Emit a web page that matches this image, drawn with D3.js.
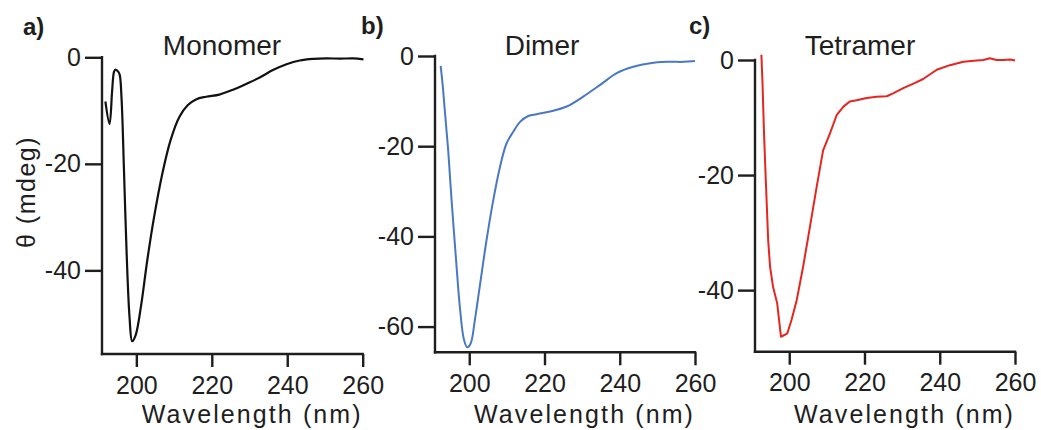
<!DOCTYPE html>
<html>
<head>
<meta charset="utf-8">
<script src="https://cdn.jsdelivr.net/npm/d3@7"></script>
<style>
  html, body { margin: 0; padding: 0; background: #ffffff; }
  svg { display: block; }
  text { font-family: "Liberation Sans", Arial, sans-serif; fill: #1e1e1e; }
</style>
</head>
<body>
<svg id="chart" width="1041" height="430"></svg>
<script>
// ---- Data ----
const xTicks = [200, 220, 240, 260];

const monomerWl  = [191.8,192.9,193.6,194.1,194.5,195.2,195.6,196.1,196.7,197.4,198.2,198.9,199.8,201.2,202.9,204.7,206.9,209.1,211.4,213.6,215.8,218.5,222.0,225.6,229.1,232.7,236.2,239.8,243.3,246.9,250.4,254.0,257.5,260.2];
const monomerVal = [-8.3,-12.5,-6.1,-2.7,-2.3,-2.7,-3.3,-8.0,-20.6,-36.2,-48.8,-53.3,-52.2,-46.9,-38.1,-30.0,-21.8,-15.5,-11.2,-9.0,-7.9,-7.4,-7.0,-6.1,-5.0,-3.8,-2.4,-1.3,-0.6,-0.3,-0.2,-0.25,-0.2,-0.4];
const monomerYTicks = [0, -20, -40];

const dimerWl  = [192.4,192.9,193.5,194.4,195.3,196.5,197.5,198.6,199.5,200.4,201.5,202.8,204.6,206.4,208.2,209.9,211.7,213.5,215.7,217.9,221.5,225.9,230.3,234.8,239.2,243.6,248.1,252.5,256.9,260.0];
const dimerVal = [-2.2,-6.1,-12.0,-20.8,-31.9,-45.2,-55.6,-62.9,-64.6,-63.7,-58.5,-51.1,-40.8,-31.9,-24.5,-19.4,-16.8,-14.6,-13.3,-12.9,-12.3,-11.2,-9.0,-6.4,-3.8,-2.4,-1.6,-1.3,-1.3,-1.1];
const dimerYTicks = [0, -20, -40, -60];

const tetramerWl  = [192.6,192.9,193.3,193.8,194.4,194.9,195.7,196.8,197.3,197.8,198.7,199.5,200.6,202.0,203.7,205.5,207.3,209.0,210.8,212.6,214.4,216.1,217.9,220.6,223.2,225.9,227.6,230.3,233.0,235.6,239.2,242.7,246.3,249.8,251.6,253.3,255.1,256.9,258.7,260.0];
const tetramerVal = [0.9,-4.1,-12.8,-21.4,-31.3,-35.9,-39.4,-42.3,-45.2,-48.1,-47.8,-47.5,-45.2,-41.7,-35.9,-29.0,-22.0,-15.7,-12.8,-9.6,-8.1,-7.2,-7.0,-6.6,-6.4,-6.3,-5.8,-4.9,-4.1,-3.3,-1.7,-0.9,-0.3,-0.1,0.0,0.3,0.0,0.0,0.1,-0.1];
const tetramerYTicks = [0, -20, -40];

const panelLabels = ["a)", "b)", "c)"];
const panelTitles = ["Monomer", "Dimer", "Tetramer"];
const xAxisTitle = "Wavelength (nm)";
const yAxisTitle = "\u03B8 (mdeg)";

// ---- Layout (positions/styles kept separate from data) ----
const panels = [
  { wl: monomerWl,  val: monomerVal,  yTicks: monomerYTicks,  yMin: -55.7, left: 102, right: 362.7, top: 57.3, bottom: 354,
    color: "#111111", width: 2.2, labelX: 23, labelY: 35, titleX: 222, curve: d3.curveCatmullRom.alpha(0.5) },
  { wl: dimerWl,    val: dimerVal,    yTicks: dimerYTicks,    yMin: -65.7, left: 435, right: 695, top: 56, bottom: 352.3,
    color: "#4a78c2", width: 2.0, labelX: 361, labelY: 34, titleX: 542, curve: d3.curveCatmullRom.alpha(0.5) },
  { wl: tetramerWl, val: tetramerVal, yTicks: tetramerYTicks, yMin: -50.7, left: 755, right: 1015, top: 60, bottom: 351.7,
    color: "#e52620", width: 2.0, labelX: 689, labelY: 34, titleX: 860, curve: d3.curveLinear }
];

const svg = d3.select("#chart");
const axisColor = "#1e1e1e";

panels.forEach((p, i) => {
  const x = d3.scaleLinear().domain([190.9, 260]).range([p.left, p.right]);
  const y = d3.scaleLinear().domain([p.yMin, 0]).range([p.bottom, p.top]);
  const g = svg.append("g");

  // Y axis
  const yAxis = d3.axisLeft(y).tickValues(p.yTicks).tickSize(17).tickPadding(4)
    .tickFormat(d => d === 0 ? "0" : "-" + Math.abs(d));
  const gy = g.append("g").attr("transform", `translate(${p.left},0)`).call(yAxis);
  gy.select(".domain").remove();
  gy.selectAll(".tick line").attr("stroke", axisColor).attr("stroke-width", 2.4);
  gy.selectAll(".tick text").attr("font-size", 25).attr("fill", axisColor)
    .attr("font-family", "'Liberation Sans', Arial, sans-serif");
  g.append("line").attr("x1", p.left).attr("x2", p.left).attr("y1", p.top - 1.2).attr("y2", p.bottom + 1.2)
    .attr("stroke", axisColor).attr("stroke-width", 2.4);

  // X axis
  const xAxis = d3.axisBottom(x).tickValues(xTicks).tickSize(13).tickPadding(9);
  const gx = g.append("g").attr("transform", `translate(0,${p.bottom})`).call(xAxis);
  gx.select(".domain").remove();
  gx.selectAll(".tick line").attr("stroke", axisColor).attr("stroke-width", 2.4);
  gx.selectAll(".tick text").attr("font-size", 25).attr("fill", axisColor)
    .attr("font-family", "'Liberation Sans', Arial, sans-serif");
  g.append("line").attr("x1", p.left - 1.2).attr("x2", p.right + 1.2).attr("y1", p.bottom).attr("y2", p.bottom)
    .attr("stroke", axisColor).attr("stroke-width", 2.4);

  // Curve
  const pts = p.wl.map((w, k) => [w, p.val[k]]);
  const line = d3.line().x(d => x(d[0])).y(d => y(d[1])).curve(p.curve);
  g.append("path").datum(pts).attr("d", line).attr("fill", "none")
    .attr("stroke", p.color).attr("stroke-width", p.width).attr("stroke-linejoin", "round");

  // Panel label
  g.append("text").attr("x", p.labelX).attr("y", p.labelY).attr("font-size", 24)
    .attr("font-weight", "bold").text(panelLabels[i]);

  // Title
  g.append("text").attr("x", p.titleX).attr("y", 55).attr("font-size", 28)
    .attr("text-anchor", "middle").text(panelTitles[i]);

  // X axis title
  g.append("text").attr("x", p.right).attr("y", 423).attr("font-size", 25)
    .attr("letter-spacing", 2.1).attr("text-anchor", "end").text(xAxisTitle);
});

// Y axis title (only first panel)
svg.append("text").attr("transform", "translate(35,192) rotate(-90)")
  .attr("font-size", 25).attr("letter-spacing", 1.5).attr("text-anchor", "middle").text(yAxisTitle);
</script>
</body>
</html>
